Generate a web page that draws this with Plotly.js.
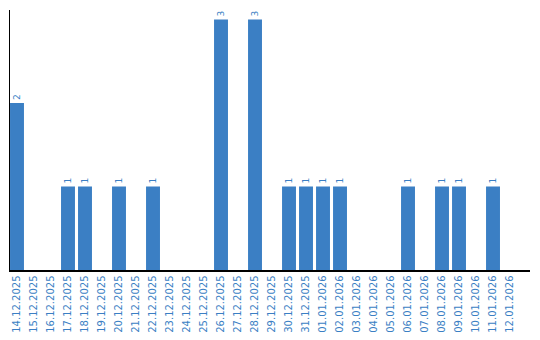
<!DOCTYPE html>
<html><head><meta charset="utf-8">
<script src="https://cdn.plot.ly/plotly-3.0.1.min.js"></script>
<style>html,body{margin:0;padding:0;background:#fff}#chart{width:540px;height:340px}</style>
</head><body><div id="chart"></div>
<script>
var dates = ["14.12.2025","15.12.2025","16.12.2025","17.12.2025","18.12.2025","19.12.2025","20.12.2025","21.12.2025","22.12.2025","23.12.2025","24.12.2025","25.12.2025","26.12.2025","27.12.2025","28.12.2025","29.12.2025","30.12.2025","31.12.2025","01.01.2026","02.01.2026","03.01.2026","04.01.2026","05.01.2026","06.01.2026","07.01.2026","08.01.2026","09.01.2026","10.01.2026","11.01.2026","12.01.2026"];
var counts = [2,0,0,1,1,0,1,0,1,0,0,0,3,0,3,0,1,1,1,1,0,0,0,1,0,1,1,0,1,0];
var labels = counts.map(function(v){return v>0?String(v):"";});
var blue = "#3b7fc4";
Plotly.newPlot("chart",[{
  type:"bar", x:dates, y:counts, text:labels, textposition:"outside", textangle:-90,
  cliponaxis:false,
  textfont:{family:"DejaVu Sans", size:9, color:blue},
  marker:{color:blue}, width:0.82, hoverinfo:"none"
}],{
  width:540, height:340,
  margin:{l:10,r:10,t:10,b:70},
  paper_bgcolor:"#fff", plot_bgcolor:"#fff",
  showlegend:false,
  xaxis:{type:"category", range:[-0.412,30.176], showgrid:false, zeroline:false,
    showline:true, linecolor:"#000", linewidth:1.5, ticks:"", tickangle:-90,
    tickfont:{family:"DejaVu Sans", size:10, color:blue}, automargin:false},
  yaxis:{range:[0,3.114], showgrid:false, zeroline:false, showline:true, linecolor:"#000", linewidth:1,
    showticklabels:false, ticks:""}
},{displayModeBar:false, staticPlot:true});
</script></body></html>
